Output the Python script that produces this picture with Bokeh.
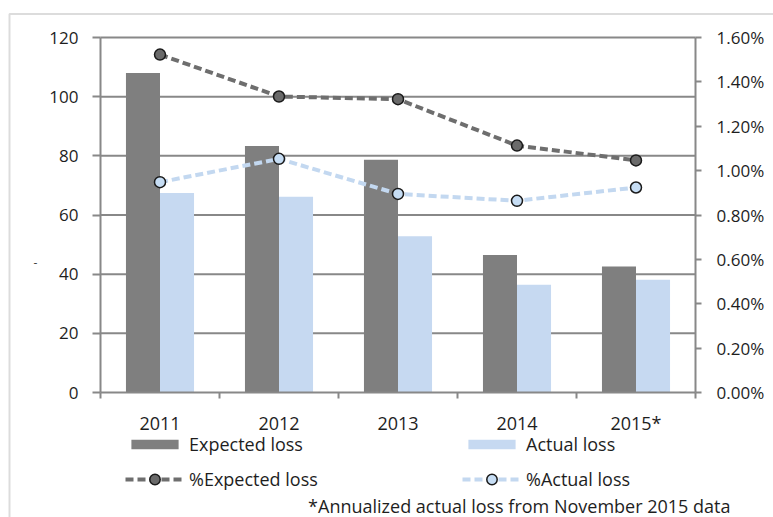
from bokeh.plotting import figure
from bokeh.models import (Range1d, LinearAxis, FixedTicker, PrintfTickFormatter,
                          Legend, LegendItem, Label, BoxAnnotation, ColumnDataSource)
from bokeh.embed import file_html
from bokeh.resources import INLINE

years = ["2011", "2012", "2013", "2014", "2015*"]
expected_loss = [108, 83.3, 78.7, 46.5, 42.6]
actual_loss = [67.4, 66.2, 52.8, 36.4, 38.1]
pct_expected = [1.523, 1.334, 1.322, 1.113, 1.046]
pct_actual = [0.948, 1.053, 0.895, 0.864, 0.924]
left_ticks = [0, 20, 40, 60, 80, 100, 120]
right_ticks = [0.0, 0.2, 0.4, 0.6, 0.8, 1.0, 1.2, 1.4, 1.6]
footnote = "*Annualized actual loss from November 2015 data"

FONT = "Open Sans"
GRID = "#888888"
DARK = "#7f7f7f"
LIGHT = "#c6d9f1"
TXT = "#1e1e1e"

# layout (pixels) of the canvas and of the plotting area inside it
W, H = 773, 517
PL, PR, PT, PB = 100, 695, 37, 392
n = len(years)
ymax = left_ticks[-1]
pmax = right_ticks[-1]

xpx = (PR - PL) / n
ypx = (PB - PT) / ymax
x0 = -0.5 - PL / xpx
x1 = n - 0.5 + (W - PR) / xpx
y0 = -(H - PB) / ypx
y1 = ymax + PT / ypx
k = pmax / ymax

idx = list(range(n))
bw = 0.286
src = ColumnDataSource(dict(
    x=idx,
    xe=[i - bw / 2 for i in idx],
    xa=[i + bw / 2 for i in idx],
    exp=expected_loss, act=actual_loss,
    pe=pct_expected, pa=pct_actual,
))

p = figure(width=W, height=H, output_backend="svg", toolbar_location=None,
           x_range=Range1d(x0, x1), y_range=Range1d(y0, y1),
           min_border=0, outline_line_color=None)
p.extra_y_ranges = {"pct": Range1d(y0 * k, y1 * k)}
p.xgrid.visible = False
p.ygrid.visible = False

# horizontal gridlines inside the plotting area
gsrc = ColumnDataSource(dict(y=left_ticks[1:], xs=[-0.5] * (len(left_ticks) - 1),
                             xe=[n - 0.5] * (len(left_ticks) - 1)))
p.segment(x0="xs", x1="xe", y0="y", y1="y", source=gsrc, line_color=GRID, line_width=2)

# bars
r_exp = p.vbar(x="xe", width=bw, top="exp", source=src, fill_color=DARK, line_color=None)
r_act = p.vbar(x="xa", width=bw, top="act", source=src, fill_color=LIGHT, line_color=None)

# lines
l_pe = p.line(x="x", y="pe", source=src, y_range_name="pct", line_color="#6e6e6e",
              line_width=4, line_dash="8 4")
m_pe = p.scatter(x="x", y="pe", source=src, y_range_name="pct", size=11,
                 fill_color="#6a6a6a", line_color="#1a1a1a", line_width=1.5)
l_pa = p.line(x="x", y="pa", source=src, y_range_name="pct", line_color="#c3d8f0",
              line_width=4, line_dash="8 4")
m_pa = p.scatter(x="x", y="pa", source=src, y_range_name="pct", size=11,
                 fill_color="#c6ddf4", line_color="#1a1a1a", line_width=1.5)

# x axis
xa = p.xaxis[0]
xa.fixed_location = 0
xa.bounds = (-0.5, n - 0.5)
xa.ticker = FixedTicker(ticks=idx, minor_ticks=[i - 0.5 for i in idx] + [n - 0.5])
xa.major_label_overrides = {i: y for i, y in zip(idx, years)}
xa.major_tick_line_color = None
xa.minor_tick_in = 0
xa.minor_tick_out = 6
xa.minor_tick_line_color = GRID
xa.minor_tick_line_width = 2
xa.axis_line_color = GRID
xa.axis_line_width = 2
xa.major_label_standoff = 12
xa.major_label_text_font = FONT
xa.major_label_text_font_size = "18px"
xa.major_label_text_color = TXT

# left axis
ya = p.yaxis[0]
ya.fixed_location = -0.5
ya.bounds = (0, ymax)
ya.ticker = FixedTicker(ticks=left_ticks)
ya.major_tick_in = 0
ya.major_tick_out = 8
ya.major_tick_line_color = GRID
ya.major_tick_line_width = 2
ya.minor_tick_line_color = None
ya.axis_line_color = GRID
ya.axis_line_width = 2
ya.major_label_standoff = 14
ya.major_label_text_font = FONT
ya.major_label_text_font_size = "17px"
ya.major_label_text_color = TXT

# right axis
ra = LinearAxis(y_range_name="pct", ticker=FixedTicker(ticks=right_ticks),
                formatter=PrintfTickFormatter(format="%.2f%%"))
ra.fixed_location = n - 0.5
ra.bounds = (0, pmax)
ra.major_tick_in = 0
ra.major_tick_out = 6
ra.major_tick_line_color = GRID
ra.major_tick_line_width = 2
ra.minor_tick_line_color = None
ra.axis_line_color = GRID
ra.axis_line_width = 2
ra.major_label_standoff = 15
ra.major_label_text_font = FONT
ra.major_label_text_font_size = "17px"
ra.major_label_text_color = TXT
p.add_layout(ra, "right")


def make_legend(items, glyph_h, loc):
    lg = Legend(items=items, orientation="horizontal")
    lg.glyph_width = 59
    lg.glyph_height = glyph_h
    lg.label_width = 260
    lg.label_height = 20
    lg.label_standoff = 5
    lg.spacing = 13
    lg.padding = 0
    lg.margin = 0
    lg.border_line_color = None
    lg.background_fill_alpha = 0
    lg.label_text_font = FONT
    lg.label_text_font_size = "18px"
    lg.label_text_color = TXT
    lg.location = loc
    return lg


p.add_layout(make_legend([
    LegendItem(label="Expected loss", renderers=[r_exp]),
    LegendItem(label="Actual loss", renderers=[r_act]),
], 12, (125, 61)), "center")
p.add_layout(make_legend([
    LegendItem(label="%Expected loss", renderers=[l_pe, m_pe]),
    LegendItem(label="%Actual loss", renderers=[l_pa, m_pa]),
], 26, (125, 25)), "center")

p.add_layout(Label(x=730, y=12, x_units="screen", y_units="screen", text=footnote,
                   text_font=FONT, text_font_size="18px", text_align="right",
                   text_baseline="middle", text_color=TXT))
p.add_layout(Label(x=33, y=H - 262, x_units="screen", y_units="screen", text="-",
                   text_font=FONT, text_font_size="12px", text_baseline="middle",
                   text_color="#444444"))
p.add_layout(BoxAnnotation(left=9, right=W + 50, top=H - 13.5, bottom=-50,
                           left_units="screen", right_units="screen",
                           top_units="screen", bottom_units="screen",
                           fill_alpha=0, line_color="#8a8a8a", line_width=2))

open("out.html", "w").write(file_html(p, INLINE))
